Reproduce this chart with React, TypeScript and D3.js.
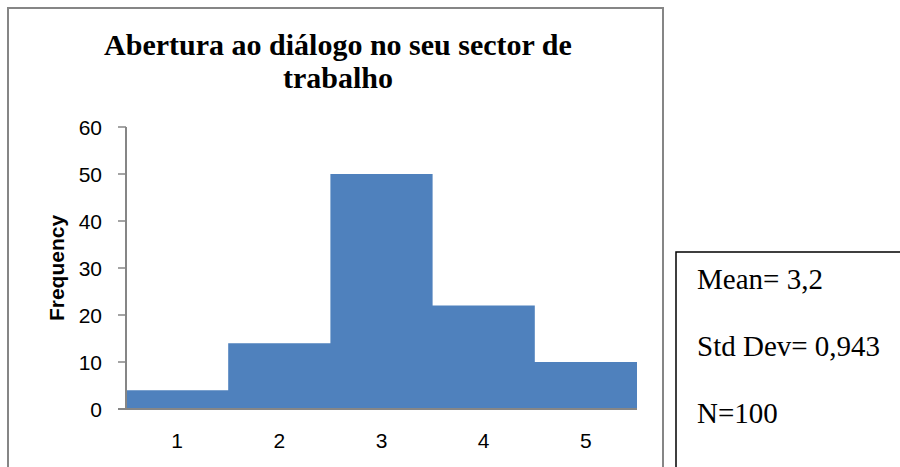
import React from "react";
import * as d3 from "d3";

const categories = [1, 2, 3, 4, 5];
const frequencies = [4, 14, 50, 22, 10];
const yTicks = [0, 10, 20, 30, 40, 50, 60];
const titleLines = ["Abertura ao diálogo no seu sector de", "trabalho"];
const yLabel = "Frequency";
const statsLines = ["Mean= 3,2", "Std Dev= 0,943", "N=100"];

export default function App() {
  const x = d3.scaleLinear().domain([0.5, 5.5]).range([126, 637]);
  const y = d3.scaleLinear().domain([0, 60]).range([409, 127]);
  const axisColor = "#868686";
  const sans = "'Liberation Sans', Arial, sans-serif";
  const serif = "'Liberation Serif', 'Times New Roman', serif";

  const steps: [number, number][] = categories.map((c, i) => [c - 0.5, frequencies[i]]);
  steps.push([categories[categories.length - 1] + 0.5, frequencies[frequencies.length - 1]]);
  const area = d3
    .area<[number, number]>()
    .x((d) => x(d[0]))
    .y0(y(0))
    .y1((d) => y(d[1]))
    .curve(d3.curveStepAfter);

  return (
    <div style={{ position: "absolute", left: 0, top: 0 }}>
      <svg width={900} height={467} style={{ display: "block", background: "#fff" }}>
        <rect x={8} y={8} width={655} height={480} fill="#fff" stroke={axisColor} strokeWidth={2} />
        {titleLines.map((t, i) => (
          <text
            key={i}
            x={338}
            y={55 + i * 33}
            textAnchor="middle"
            fontFamily={serif}
            fontWeight="bold"
            fontSize={30}
            fill="#000"
          >
            {t}
          </text>
        ))}
        <path d={area(steps) || ""} fill="#4F81BD" />
        <line x1={126} x2={126} y1={y(60)} y2={y(0)} stroke={axisColor} strokeWidth={2} />
        <line x1={118} x2={x(5.5)} y1={y(0)} y2={y(0)} stroke={axisColor} strokeWidth={2} />
        {yTicks.map((t) => (
          <g key={t}>
            <line x1={118} x2={126} y1={y(t)} y2={y(t)} stroke={axisColor} strokeWidth={1.5} />
            <text x={102} y={y(t) + 7.5} textAnchor="end" fontFamily={sans} fontSize={21} fill="#000">
              {t}
            </text>
          </g>
        ))}
        {categories.map((c) => (
          <text key={c} x={x(c)} y={448} textAnchor="middle" fontFamily={sans} fontSize={21} fill="#000">
            {c}
          </text>
        ))}
        <text
          transform={`translate(64,268) rotate(-90)`}
          textAnchor="middle"
          fontFamily={sans}
          fontWeight="bold"
          fontSize={21}
          fill="#000"
        >
          {yLabel}
        </text>
        <rect x={676} y={252} width={300} height={300} fill="#fff" stroke="#000" strokeWidth={1.5} />
        {statsLines.map((s, i) => (
          <text key={i} x={697} y={289 + i * 67} fontFamily={serif} fontSize={29} fill="#000">
            {s}
          </text>
        ))}
      </svg>
    </div>
  );
}
